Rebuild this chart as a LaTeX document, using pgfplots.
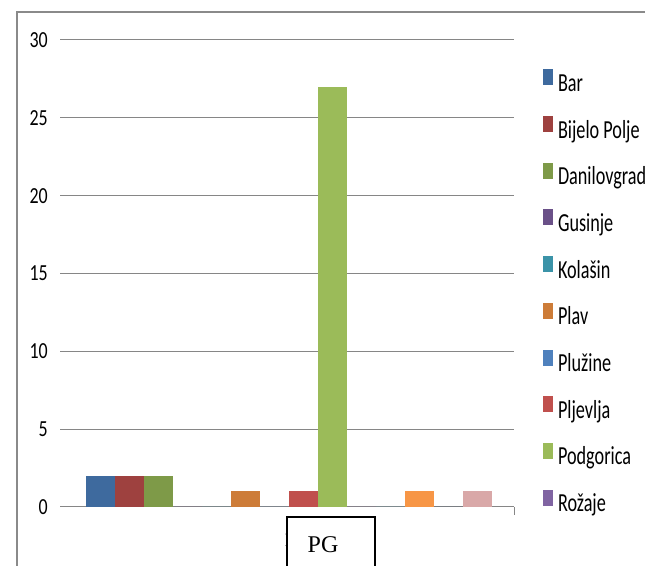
\documentclass[border=0pt]{standalone}
\usepackage{pgfplots}
\pgfplotsset{compat=1.18}
\usepackage{graphicx}
\usepackage{fontspec}
\setmainfont{Carlito}
\newfontfamily\seriffont{Liberation Serif}
\definecolor{c0}{HTML}{3E6A9E}
\definecolor{c1}{HTML}{9E413F}
\definecolor{c2}{HTML}{7E9A48}
\definecolor{c3}{HTML}{6A5088}
\definecolor{c4}{HTML}{3B93A8}
\definecolor{c5}{HTML}{CD7C38}
\definecolor{c6}{HTML}{4F81BD}
\definecolor{c7}{HTML}{C0504D}
\definecolor{c8}{HTML}{9BBB59}
\definecolor{c9}{HTML}{8064A2}
\definecolor{c10}{HTML}{4BACC6}
\definecolor{c11}{HTML}{F79646}
\definecolor{c12}{HTML}{2C4D75}
\definecolor{c13}{HTML}{D9A8A8}
\definecolor{framegray}{HTML}{8A8A8A}
\definecolor{gridgray}{HTML}{868686}
\newcommand{\lt}[1]{\scalebox{0.7}[1]{#1}}
\newcommand{\tl}[1]{\scalebox{0.78}[1]{#1}}
\begin{document}
\begin{tikzpicture}
\path[use as bounding box] (0,0) rectangle (645bp,566bp);
\draw[framegray, line width=2bp] (17bp,-2bp) -- (17bp,554bp) -- (650bp,554bp);
\begin{axis}[
  scale only axis, width=454bp, height=467bp,
  at={(60bp,59bp)}, anchor=south west,
  xmin=-229, xmax=225, ymin=0, ymax=30,
  ytick={0,5,10,15,20,25,30},
  yticklabels={\tl{0},\tl{5},\tl{10},\tl{15},\tl{20},\tl{25},\tl{30}},
  yticklabel style={font=\fontsize{23bp}{26bp}\selectfont, inner sep=0pt, xshift=-12bp},
  xtick={0}, xticklabels={1},
  xticklabel style={font=\fontsize{22bp}{24bp}\seriffont, inner sep=0pt, yshift=-25bp},
  axis line style={draw=none},
  major tick length=0pt,
  ymajorgrids, grid style={gridgray, line width=1bp},
  ybar, bar width=29bp,
  legend image code/.code={\draw[#1,draw=none] (0bp,0bp) rectangle (10bp,16bp);},
  legend cell align=left,
  legend style={draw=none, fill=none, at={(1.0639,0.9372)}, anchor=north west,
    inner sep=0pt, outer sep=0pt, row sep=19.7bp, column sep=5bp,
    font=\fontsize{26bp}{30bp}\selectfont,
    nodes={inner sep=0pt, text height=17bp, text depth=5bp}},
  legend entries={\lt{Bar},\lt{Bijelo Polje},\lt{Danilovgrad},\lt{Gusinje},\lt{Kolašin},\lt{Plav},\lt{Plužine},\lt{Pljevlja},\lt{Podgorica},\lt{Rožaje}},
  clip=false,
]
\addplot[fill=c0, draw=none, bar shift=-188.5bp] coordinates {(0,2)};
\addplot[fill=c1, draw=none, bar shift=-159.5bp] coordinates {(0,2)};
\addplot[fill=c2, draw=none, bar shift=-130.5bp] coordinates {(0,2)};
\addplot[fill=c3, draw=none, bar shift=-101.5bp] coordinates {(0,0)};
\addplot[fill=c4, draw=none, bar shift=-72.5bp] coordinates {(0,0)};
\addplot[fill=c5, draw=none, bar shift=-43.5bp] coordinates {(0,1)};
\addplot[fill=c6, draw=none, bar shift=-14.5bp] coordinates {(0,0)};
\addplot[fill=c7, draw=none, bar shift=14.5bp] coordinates {(0,1)};
\addplot[fill=c8, draw=none, bar shift=43.5bp] coordinates {(0,27)};
\addplot[fill=c9, draw=none, bar shift=72.5bp] coordinates {(0,0)};
\addplot[fill=c10, draw=none, bar shift=101.5bp] coordinates {(0,0)};
\addplot[fill=c11, draw=none, bar shift=130.5bp] coordinates {(0,1)};
\addplot[fill=c12, draw=none, bar shift=159.5bp] coordinates {(0,0)};
\addplot[fill=c13, draw=none, bar shift=188.5bp] coordinates {(0,1)};
\end{axis}
\draw[gridgray, line width=1bp] (514bp,59bp) -- (514bp,51bp);
\draw[black, line width=2bp, fill=white] (287bp,-5bp) rectangle (375bp,49bp);
\node[font=\fontsize{24bp}{28bp}\seriffont, anchor=base, inner sep=0pt] at (323bp,14bp) {PG};
\end{tikzpicture}
\end{document}
